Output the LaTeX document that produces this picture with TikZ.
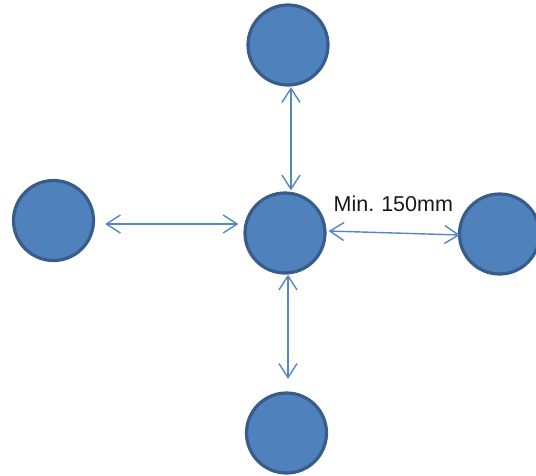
\documentclass[tikz,border=0pt]{standalone}
\usepackage{fontspec}
\setmainfont{Liberation Sans}
\usetikzlibrary{arrows.meta}
\definecolor{discfill}{HTML}{4F81BD}
\definecolor{discline}{HTML}{385D8A}
\definecolor{linkcol}{HTML}{5586C2}
\begin{document}
\begin{tikzpicture}[x=1pt,y=-1pt,
  disc/.style={circle,draw=discline,fill=discfill,line width=3.2pt,
    minimum size=80pt,inner sep=0pt},
  link/.style={draw=linkcol,line width=1.4pt,
    {Straight Barb[length=14pt,width=18pt,line width=1.4pt]}-{Straight Barb[length=14pt,width=18pt,line width=1.4pt]}}]
  \useasboundingbox (0,0) rectangle (536,475);
  \fill[white] (0,0) rectangle (536,475);
  % discs
  \node[disc] (top)    at (288,45)    {};
  \node[disc] (left)   at (53.5,220.5) {};
  \node[disc] (center) at (285,233)   {};
  \node[disc] (right)  at (499.5,234) {};
  \node[disc] (bottom) at (286.5,433) {};
  % spacing arrows
  \draw[link] ([xshift=3pt,yshift=-0.5pt]top.south) -- ([xshift=6pt,yshift=1pt]center.north);
  \draw[link] ([xshift=10pt,yshift=-3.5pt]left.east) -- ([xshift=-5pt,yshift=9pt]center.west);
  \draw[link] ([xshift=2pt,yshift=2pt]center.east) -- ([xshift=2pt,yshift=-1pt]right.west);
  \draw[link] ([xshift=3pt,yshift=0pt]center.south) -- ([xshift=1.5pt,yshift=12.5pt]bottom.north);
  % label
  \node[anchor=base west,inner sep=0pt,font=\fontsize{21.5}{25}\selectfont,text=black!90]
    (label) at (333.5,211.7) {Min.\kern-1pt{} 150mm};
\end{tikzpicture}
\end{document}
